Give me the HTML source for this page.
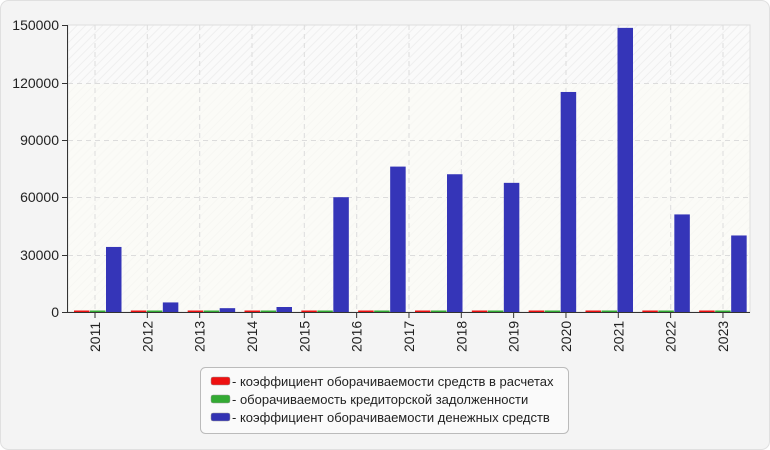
<!DOCTYPE html>
<html><head><meta charset="utf-8"><style>
body{margin:0;background:#fff;}
svg{display:block;font-family:"Liberation Sans",sans-serif;}
</style></head><body>
<svg width="770" height="450" viewBox="0 0 770 450">
<defs>
<pattern id="h" width="6" height="6" patternUnits="userSpaceOnUse" patternTransform="rotate(45)">
<rect width="6" height="6" fill="#fafafa"/><line x1="0" y1="0" x2="0" y2="6" stroke="#efefef" stroke-width="2"/>
</pattern>
</defs>
<rect x="0.5" y="0.5" width="769" height="449" rx="8" fill="#f4f4f4" stroke="#e0e0e0"/>
<rect x="68" y="25" width="682" height="287" fill="url(#h)"/>
<rect x="68" y="84" width="682" height="228" fill="#fbfbf5" opacity="0.6"/>
<rect x="68" y="25" width="682" height="287" fill="none" stroke="#dedede"/>
<g stroke="#dcdcdc" stroke-dasharray="5,4" stroke-width="1">
<line x1="68" y1="83.5" x2="750" y2="83.5"/>
<line x1="68" y1="140.5" x2="750" y2="140.5"/>
<line x1="68" y1="197.5" x2="750" y2="197.5"/>
<line x1="68" y1="255.5" x2="750" y2="255.5"/>
<line x1="95" y1="25" x2="95" y2="312"/><line x1="147.3" y1="25" x2="147.3" y2="312"/>
<line x1="199.7" y1="25" x2="199.7" y2="312"/><line x1="252" y1="25" x2="252" y2="312"/>
<line x1="304.3" y1="25" x2="304.3" y2="312"/><line x1="356.7" y1="25" x2="356.7" y2="312"/>
<line x1="409" y1="25" x2="409" y2="312"/><line x1="461.3" y1="25" x2="461.3" y2="312"/>
<line x1="513.7" y1="25" x2="513.7" y2="312"/><line x1="566" y1="25" x2="566" y2="312"/>
<line x1="618.3" y1="25" x2="618.3" y2="312"/><line x1="670.7" y1="25" x2="670.7" y2="312"/>
<line x1="723" y1="25" x2="723" y2="312"/>
</g>
<g>
<g transform="translate(74,0)"><rect x="0" y="310.5" width="15.5" height="2" fill="#ee1111"/><rect x="16" y="310.5" width="15.5" height="2" fill="#33aa33"/><rect x="32" y="246.95" width="15.5" height="65.05" fill="#3535b8"/></g>
<g transform="translate(130.83,0)"><rect x="0" y="310.5" width="15.5" height="2" fill="#ee1111"/><rect x="16" y="310.5" width="15.5" height="2" fill="#33aa33"/><rect x="32" y="302.43" width="15.5" height="9.57" fill="#3535b8"/></g>
<g transform="translate(187.67,0)"><rect x="0" y="310.5" width="15.5" height="2" fill="#ee1111"/><rect x="16" y="310.5" width="15.5" height="2" fill="#33aa33"/><rect x="32" y="308.17" width="15.5" height="3.83" fill="#3535b8"/></g>
<g transform="translate(244.5,0)"><rect x="0" y="310.5" width="15.5" height="2" fill="#ee1111"/><rect x="16" y="310.5" width="15.5" height="2" fill="#33aa33"/><rect x="32" y="307" width="15.5" height="5" fill="#3535b8"/></g>
<g transform="translate(301.33,0)"><rect x="0" y="310.5" width="15.5" height="2" fill="#ee1111"/><rect x="16" y="310.5" width="15.5" height="2" fill="#33aa33"/><rect x="32" y="197.2" width="15.5" height="114.8" fill="#3535b8"/></g>
<g transform="translate(358.17,0)"><rect x="0" y="310.5" width="15.5" height="2" fill="#ee1111"/><rect x="16" y="310.5" width="15.5" height="2" fill="#33aa33"/><rect x="32" y="166.59" width="15.5" height="145.41" fill="#3535b8"/></g>
<g transform="translate(415,0)"><rect x="0" y="310.5" width="15.5" height="2" fill="#ee1111"/><rect x="16" y="310.5" width="15.5" height="2" fill="#33aa33"/><rect x="32" y="174.24" width="15.5" height="137.76" fill="#3535b8"/></g>
<g transform="translate(471.83,0)"><rect x="0" y="310.5" width="15.5" height="2" fill="#ee1111"/><rect x="16" y="310.5" width="15.5" height="2" fill="#33aa33"/><rect x="32" y="182.85" width="15.5" height="129.15" fill="#3535b8"/></g>
<g transform="translate(528.67,0)"><rect x="0" y="310.5" width="15.5" height="2" fill="#ee1111"/><rect x="16" y="310.5" width="15.5" height="2" fill="#33aa33"/><rect x="32" y="91.97" width="15.5" height="220.03" fill="#3535b8"/></g>
<g transform="translate(585.5,0)"><rect x="0" y="310.5" width="15.5" height="2" fill="#ee1111"/><rect x="16" y="310.5" width="15.5" height="2" fill="#33aa33"/><rect x="32" y="27.87" width="15.5" height="284.13" fill="#3535b8"/></g>
<g transform="translate(642.33,0)"><rect x="0" y="310.5" width="15.5" height="2" fill="#ee1111"/><rect x="16" y="310.5" width="15.5" height="2" fill="#33aa33"/><rect x="32" y="214.42" width="15.5" height="97.58" fill="#3535b8"/></g>
<g transform="translate(699.17,0)"><rect x="0" y="310.5" width="15.5" height="2" fill="#ee1111"/><rect x="16" y="310.5" width="15.5" height="2" fill="#33aa33"/><rect x="32" y="235.47" width="15.5" height="76.53" fill="#3535b8"/></g>
</g>
<line x1="67.5" y1="25" x2="67.5" y2="312" stroke="#333"/>
<line x1="67" y1="312.5" x2="750" y2="312.5" stroke="#333"/>
<g stroke="#333">
<line x1="62" y1="25.5" x2="68" y2="25.5"/><line x1="62" y1="83.5" x2="68" y2="83.5"/>
<line x1="62" y1="140.5" x2="68" y2="140.5"/><line x1="62" y1="197.5" x2="68" y2="197.5"/>
<line x1="62" y1="255.5" x2="68" y2="255.5"/><line x1="62" y1="312.5" x2="68" y2="312.5"/>
<line x1="95" y1="312" x2="95" y2="318"/><line x1="147.33" y1="312" x2="147.33" y2="318"/>
<line x1="199.66" y1="312" x2="199.66" y2="318"/><line x1="251.99" y1="312" x2="251.99" y2="318"/>
<line x1="304.32" y1="312" x2="304.32" y2="318"/><line x1="356.65" y1="312" x2="356.65" y2="318"/>
<line x1="408.98" y1="312" x2="408.98" y2="318"/><line x1="461.31" y1="312" x2="461.31" y2="318"/>
<line x1="513.64" y1="312" x2="513.64" y2="318"/><line x1="565.97" y1="312" x2="565.97" y2="318"/>
<line x1="618.3" y1="312" x2="618.3" y2="318"/><line x1="670.63" y1="312" x2="670.63" y2="318"/>
<line x1="722.96" y1="312" x2="722.96" y2="318"/>
</g>
<g font-size="14" fill="#222" text-anchor="end">
<text x="59" y="30">150000</text><text x="59" y="88">120000</text>
<text x="59" y="145">90000</text><text x="59" y="202">60000</text>
<text x="59" y="260">30000</text><text x="59" y="317">0</text>
</g>
<g font-size="14" fill="#222">
<text transform="translate(100,352) rotate(-90)">2011</text>
<text transform="translate(152.33,352) rotate(-90)">2012</text>
<text transform="translate(204.66,352) rotate(-90)">2013</text>
<text transform="translate(256.99,352) rotate(-90)">2014</text>
<text transform="translate(309.32,352) rotate(-90)">2015</text>
<text transform="translate(361.65,352) rotate(-90)">2016</text>
<text transform="translate(413.98,352) rotate(-90)">2017</text>
<text transform="translate(466.31,352) rotate(-90)">2018</text>
<text transform="translate(518.64,352) rotate(-90)">2019</text>
<text transform="translate(570.97,352) rotate(-90)">2020</text>
<text transform="translate(623.3,352) rotate(-90)">2021</text>
<text transform="translate(675.63,352) rotate(-90)">2022</text>
<text transform="translate(727.96,352) rotate(-90)">2023</text>
</g>
<rect x="200.5" y="367.5" width="368" height="66" rx="5" fill="#fafafa" stroke="#bbb"/>
<rect x="211" y="377" width="19" height="8" rx="2" fill="#ee1111" stroke="#999" stroke-width="0.5"/>
<rect x="211" y="395" width="19" height="8" rx="2" fill="#33aa33" stroke="#999" stroke-width="0.5"/>
<rect x="211" y="413" width="19" height="8" rx="2" fill="#3333b3" stroke="#999" stroke-width="0.5"/>
<g font-size="13" fill="#222">
<text x="232" y="386">- коэффициент оборачиваемости средств в расчетах</text>
<text x="232" y="404">- оборачиваемость кредиторской задолженности</text>
<text x="232" y="422">- коэффициент оборачиваемости денежных средств</text>
</g>
</svg>
</body></html>
